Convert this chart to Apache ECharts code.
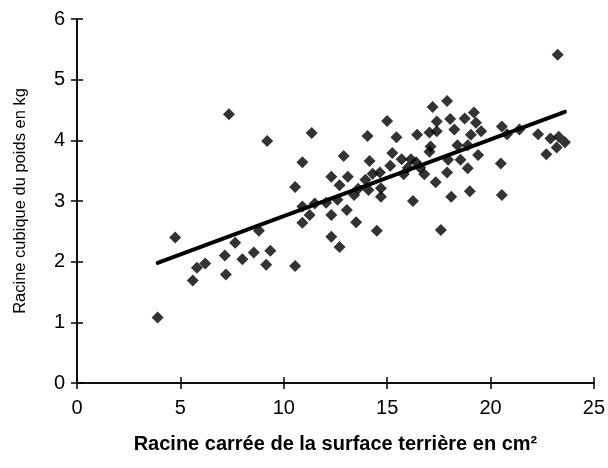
<!DOCTYPE html>
<html>
<head>
<meta charset="utf-8">
<script src="https://cdn.jsdelivr.net/npm/echarts@6/dist/echarts.min.js"></script>
<style>
  html, body { margin: 0; padding: 0; background: #fff; }
  #chart { width: 608px; height: 468px; }
</style>
</head>
<body>
<div id="chart"></div>
<script>
// racine carrée de la surface terrière (cm)
var surfX = [3.9, 4.75, 5.6, 5.8, 6.2, 7.15, 7.2, 7.35, 7.65, 8.0, 8.55, 8.8, 9.15, 9.35, 9.2,
  10.55, 10.55, 10.9, 10.9, 10.9, 11.25, 11.35, 11.5, 12.05, 12.3, 12.3, 12.3, 12.6, 12.7, 12.7,
  12.9, 13.05, 13.1, 13.4, 13.5, 13.6, 13.95, 14.05, 14.1, 14.15, 14.3, 14.5, 14.65, 14.7, 14.7,
  15.0, 15.15, 15.25, 15.45, 15.7, 15.8, 16.0, 16.15, 16.25, 16.4, 16.45, 16.6, 16.8, 17.05, 17.05,
  17.1, 17.2, 17.35, 17.4, 17.4, 17.6, 17.9, 17.9, 17.95, 18.05, 18.1, 18.25, 18.4, 18.55, 18.75,
  18.9, 18.9, 19.0, 19.05, 19.2, 19.3, 19.4, 19.55, 20.5, 20.55, 20.55, 20.8, 21.4, 22.3, 22.7,
  22.9, 23.2, 23.25, 23.3, 23.6];
// racine cubique du poids (kg)
var poidsY = [1.08, 2.40, 1.69, 1.90, 1.97, 2.10, 1.79, 4.43, 2.31, 2.04, 2.15, 2.51, 1.95, 2.18, 3.99,
  1.93, 3.23, 3.64, 2.91, 2.64, 2.77, 4.12, 2.96, 2.97, 3.40, 2.41, 2.77, 3.02, 3.26, 2.24,
  3.74, 2.85, 3.40, 3.10, 2.65, 3.20, 3.35, 4.07, 3.18, 3.66, 3.45, 2.51, 3.47, 3.07, 3.21,
  4.32, 3.58, 3.79, 4.05, 3.69, 3.44, 3.55, 3.69, 3.00, 3.64, 4.09, 3.55, 3.44, 4.13, 3.81,
  3.90, 4.55, 3.31, 4.31, 4.15, 2.52, 4.65, 3.47, 3.68, 4.35, 3.07, 4.18, 3.92, 3.68, 4.36,
  3.92, 3.54, 3.16, 4.09, 4.46, 4.29, 3.76, 4.15, 3.62, 4.23, 3.10, 4.10, 4.18, 4.10, 3.77,
  4.03, 3.88, 5.41, 4.06, 3.97];
// droite de régression
var trendX = [3.9, 23.6];
var trendY = [1.98, 4.47];
var xTicks = [0, 5, 10, 15, 20, 25];
var yTicks = [0, 1, 2, 3, 4, 5, 6];

var points = surfX.map(function (x, i) { return [x, poidsY[i]]; });
var trend = trendX.map(function (x, i) { return [x, trendY[i]]; });

var chart = echarts.init(document.getElementById('chart'));
var font = "'Liberation Sans', Arial, sans-serif";
var lineStyle = { color: '#000', width: 1.5 };

chart.setOption({
  backgroundColor: '#fff',
  animation: false,
  grid: { left: 77, right: 14, top: 19, bottom: 85, containLabel: false },
  xAxis: [
    {
      type: 'value', min: xTicks[0], max: xTicks[xTicks.length - 1], interval: 5,
      position: 'bottom',
      name: 'Racine carrée de la surface terrière en cm²',
      nameLocation: 'middle', nameGap: 51,
      nameTextStyle: { fontFamily: font, fontSize: 20, fontWeight: 'bold', color: '#000' },
      axisLine: { lineStyle: lineStyle },
      axisTick: { length: 6, lineStyle: lineStyle },
      axisLabel: { fontFamily: font, fontSize: 20, color: '#000', margin: 15 },
      splitLine: { show: false }
    },
    {
      type: 'value', min: xTicks[0], max: xTicks[xTicks.length - 1], interval: 5,
      position: 'bottom',
      axisLine: { show: true, lineStyle: lineStyle },
      axisTick: { show: true, inside: true, length: 6, lineStyle: lineStyle },
      axisLabel: { show: false },
      splitLine: { show: false }
    }
  ],
  yAxis: [
    {
      type: 'value', min: yTicks[0], max: yTicks[yTicks.length - 1], interval: 1,
      position: 'left',
      name: 'Racine cubique du poids en kg',
      nameLocation: 'middle', nameGap: 48, nameRotate: 90,
      nameTextStyle: { fontFamily: font, fontSize: 16.5, color: '#000' },
      axisLine: { lineStyle: lineStyle },
      axisTick: { length: 6, lineStyle: lineStyle },
      axisLabel: { fontFamily: font, fontSize: 20, color: '#000', margin: 12 },
      splitLine: { show: false }
    },
    {
      type: 'value', min: yTicks[0], max: yTicks[yTicks.length - 1], interval: 1,
      position: 'left',
      axisLine: { show: true, lineStyle: lineStyle },
      axisTick: { show: true, inside: true, length: 6, lineStyle: lineStyle },
      axisLabel: { show: false },
      splitLine: { show: false }
    }
  ],
  series: [
    {
      type: 'line',
      data: trend,
      symbol: 'none',
      lineStyle: { color: '#000', width: 4, cap: 'round' },
      z: 3
    },
    {
      type: 'scatter',
      data: points,
      symbol: 'diamond',
      symbolSize: 12,
      itemStyle: { color: '#000' },
      z: 2
    }
  ]
});
</script>
</body>
</html>
